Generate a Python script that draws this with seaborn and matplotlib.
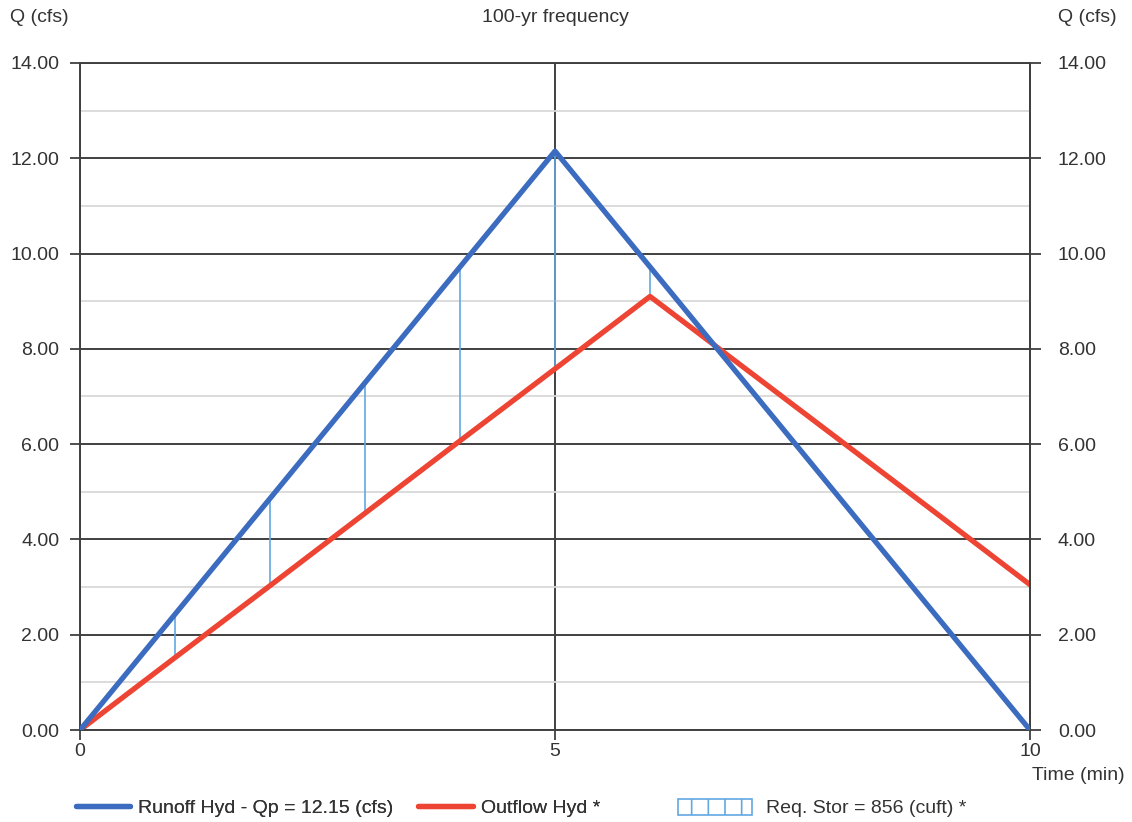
import seaborn as sns
import matplotlib.pyplot as plt
import numpy as np
import pandas as pd
from matplotlib.patches import Rectangle
from matplotlib.lines import Line2D

# hydrograph values
time_min = [0, 1, 2, 3, 4, 5, 6, 7, 8, 9, 10]
runoff = [0.00, 2.43, 4.86, 7.29, 9.72, 12.15, 9.72, 7.29, 4.86, 2.43, 0.00]
outflow = [0.00, 1.52, 3.03, 4.55, 6.07, 7.58, 9.10, 7.59, 6.08, 4.57, 3.05]
stor_t = [1, 2, 3, 4, 5, 6]

y_major = [0, 2, 4, 6, 8, 10, 12, 14]
y_minor = [1, 3, 5, 7, 9, 11, 13]
x_ticks = [0, 5, 10]

blue = '#3b6cbf'
red = '#ee4433'
stor_col = '#62a8e2'
txt = '#333333'
dark = '#404040'
fs = 14

df = pd.DataFrame({'t': time_min, 'runoff': runoff, 'outflow': outflow})

sns.set_theme(style='white')
plt.rcParams['font.family'] = ['Liberation Sans', 'DejaVu Sans']

fig = plt.figure(figsize=(11.32, 8.22), dpi=100)
ax = fig.add_axes([0.0707, 0.1119, 0.9099 - 0.0707, 0.9234 - 0.1119])

# grid
ax.set_xlim(0, 10)
ax.set_ylim(0, 14)
ax.set_yticks(y_major)
ax.set_yticks(y_minor, minor=True)
ax.set_xticks(x_ticks)
ax.grid(which='minor', axis='y', color='#d9d9d9', lw=1.3, zorder=0)
ax.grid(which='major', axis='y', color=dark, lw=1.4, zorder=0)
ax.grid(which='major', axis='x', color=dark, lw=1.4, zorder=0)

# storage lines between the two hydrographs
st = df[df['t'].isin(stor_t)]
ax.vlines(st['t'], st['outflow'], st['runoff'], color=stor_col, lw=1.2, zorder=1)

sns.lineplot(data=df, x='t', y='runoff', color=blue, lw=3.8, ax=ax, zorder=3)
sns.lineplot(data=df, x='t', y='outflow', color=red, lw=3.8, ax=ax, zorder=2)

for s in ax.spines.values():
    s.set_color(dark)
    s.set_linewidth(1.4)

ax.set_xlabel('')
ax.set_ylabel('')
ax.yaxis.set_major_formatter(lambda v, p: f'{v:.2f}')
ax.tick_params(axis='y', which='major', left=True, length=7, width=1.3, color=dark,
               pad=8, labelsize=fs, labelcolor=txt)
ax.tick_params(axis='y', which='minor', left=False, length=0)
ax.tick_params(axis='x', bottom=True, length=7, width=1.3, color=dark,
               pad=2, labelsize=fs, labelcolor=txt)

ax2 = ax.secondary_yaxis('right')
ax2.set_yticks(y_major)
ax2.yaxis.set_major_formatter(lambda v, p: f'{v:.2f}')
ax2.tick_params(axis='y', length=8, width=1.3, color=dark, pad=12,
                labelsize=fs, labelcolor=txt)
ax2.spines['right'].set_color(dark)
ax2.spines['right'].set_linewidth(1.4)

fig.text(0.4903, 1 - 18 / 822, '100-yr frequency', ha='center', va='center',
         fontsize=fs, color=txt)
fig.text(10 / 1132, 1 - 18 / 822, 'Q (cfs)', ha='left', va='center',
         fontsize=fs, color=txt)
fig.text(1058 / 1132, 1 - 18 / 822, 'Q (cfs)', ha='left', va='center',
         fontsize=fs, color=txt)
fig.text(1125 / 1132, 1 - 775 / 822, 'Time (min)', ha='right', va='center',
         fontsize=fs, color=txt)

# legend
h1 = [Line2D([], [], color=blue, lw=3.8), Line2D([], [], color=red, lw=3.8)]
leg1 = fig.legend(h1, ['Runoff Hyd - Qp = 12.15 (cfs)', 'Outflow Hyd *'],
                  loc='center left', bbox_to_anchor=(66 / 1132, 1 - 808 / 822),
                  ncol=2, frameon=False, fontsize=fs, handlelength=2.8,
                  handletextpad=0.4, columnspacing=1.3, borderpad=0,
                  labelcolor=txt)
plt.rcParams['hatch.color'] = stor_col
plt.rcParams['hatch.linewidth'] = 1.2
h2 = [Rectangle((0, 0), 1, 1, facecolor='white', edgecolor=stor_col, hatch='|', lw=1.2)]
leg2 = fig.legend(h2, ['Req. Stor = 856 (cuft) *'],
                  loc='center left', bbox_to_anchor=(668 / 1132, 1 - 808 / 822),
                  frameon=False, fontsize=fs, handlelength=3.8, handleheight=0.9,
                  handletextpad=0.75, borderpad=0, labelcolor=txt)
fig.add_artist(leg1)

fig.savefig('out.png', dpi=100)
